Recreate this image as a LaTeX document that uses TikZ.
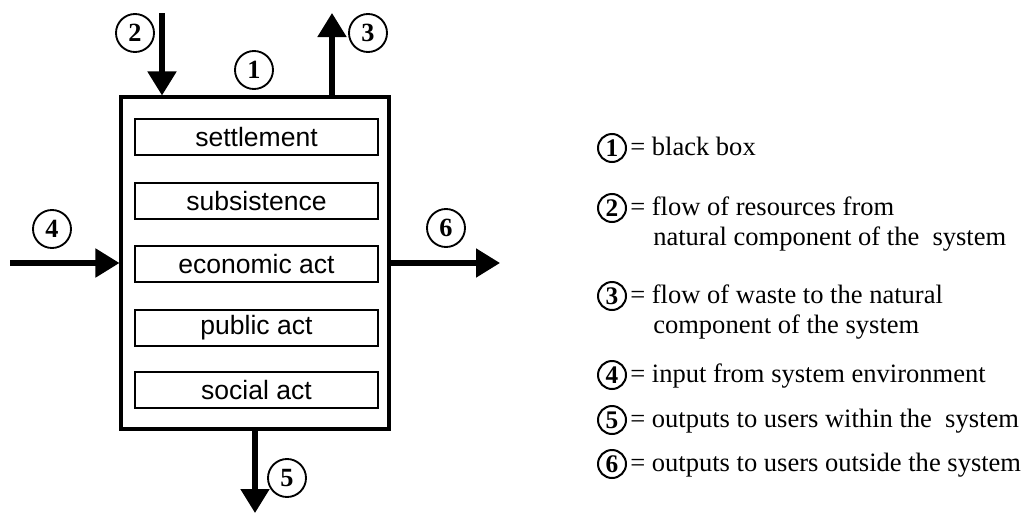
\documentclass[tikz,border=0pt]{standalone}
\usepackage{fontspec}
\setmainfont{Liberation Serif}
\newfontfamily\boxfont{Liberation Sans}
\usetikzlibrary{arrows.meta}
\tikzset{
  outerbox/.style={draw, line width=2.3pt},
  actbox/.style={draw, line width=1.5pt, minimum width=182pt, minimum height=27pt,
    inner sep=0pt, font=\boxfont\fontsize{19.9}{24}\selectfont},
  flow/.style={line width=3.8pt, -{Triangle[width=21pt,length=18pt]}},
  num/.style={draw, circle, line width=1.4pt, minimum size=28.5pt, inner sep=0pt,
    font=\bfseries\fontsize{19.7}{22}\selectfont},
  lnum/.style={draw, circle, line width=1.5pt, minimum size=21pt, inner sep=0pt,
    font=\bfseries\fontsize{19}{22}\selectfont},
  ltext/.style={anchor=base west, inner sep=0pt, font=\fontsize{19.9}{24}\selectfont}
}
\begin{document}
\begin{tikzpicture}[x=0.75pt, y=-0.75pt]
\useasboundingbox (0,0) rectangle (1027,514);

% the system box
\node[outerbox, minimum width=201pt, minimum height=249pt, inner sep=0pt] (bb) at (255,263) {};

% its components
\node[actbox] (s1) at (256.5,137) {settlement};
\node[actbox] (s2) at (256.5,201) {subsistence};
\node[actbox] (s3) at (256.5,264) {economic act};
\node[actbox] (s4) at (256.5,328) {public act};
\node[actbox] (s5) at (256.5,390) {social act};

% flows
\coordinate (in2) at (162,13);
\coordinate (out3) at (332,13);
\coordinate (in4) at (10,263);
\coordinate (out6) at (500,263);
\coordinate (out5) at (255,513);
\draw[flow] (in2) -- (in2 |- bb.north);
\draw[flow] (out3 |- bb.north) -- (out3);
\draw[flow] (in4) -- (bb.west);
\draw[flow] (bb.east) -- (out6);
\draw[flow] (bb.south) -- (out5);

% numbers
\node[num] (n1) at (254,70) {1};
\node[num] (n2) at (135,33) {2};
\node[num] (n3) at (368,33) {3};
\node[num] (n4) at (52,229) {4};
\node[num] (n5) at (287,478) {5};
\node[num] (n6) at (446,228) {6};

% legend
\node[lnum] (l1) at (612,148) {1};
\node[ltext] (t1) at (630,155) {= black box};
\node[lnum] (l2) at (612,208) {2};
\node[ltext] (t2) at (630,215) {= flow of resources from};
\node[ltext] (t2b) at (653,245) {natural component of the\ \ system};
\node[lnum] (l3) at (612,296) {3};
\node[ltext] (t3) at (630,303) {= flow of waste to the natural};
\node[ltext] (t3b) at (653,333) {component of the system};
\node[lnum] (l4) at (612,375) {4};
\node[ltext] (t4) at (630,382) {= input from system environment};
\node[lnum] (l5) at (612,420) {5};
\node[ltext] (t5) at (630,427) {= outputs to users within the\ \ system};
\node[lnum] (l6) at (612,464) {6};
\node[ltext] (t6) at (630,471) {= outputs to users outside the system};
\end{tikzpicture}
\end{document}
